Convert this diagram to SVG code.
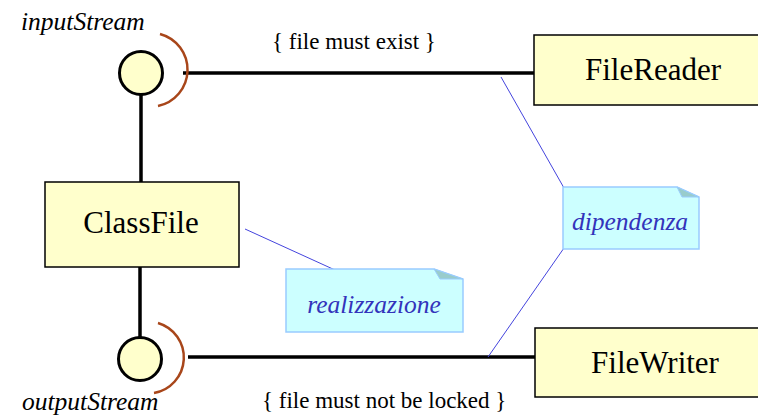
<svg xmlns="http://www.w3.org/2000/svg" width="758" height="417" viewBox="0 0 758 417">
<style>
.box{fill:#ffffcc;stroke:#000;stroke-width:1.5}
.lbl{font-family:"Liberation Serif",serif;font-size:31px;fill:#000;text-anchor:middle}
.port{fill:#ffffcc;stroke:#000;stroke-width:3}
.sock{fill:none;stroke:#a8461a;stroke-width:2.5}
.wire{fill:none;stroke:#000;stroke-width:3.5}
.anch{fill:none;stroke:#4444dd;stroke-width:1}
.note{fill:#ccffff;stroke:#99ccff;stroke-width:1.5}
.fold{fill:#99cccc;stroke:#99ccff;stroke-width:1}
.ntxt{font-family:"Liberation Serif",serif;font-style:italic;font-size:25.5px;fill:#3333bb;text-anchor:middle}
.it{font-family:"Liberation Serif",serif;font-style:italic;font-size:25.5px;fill:#000}
.con{font-family:"Liberation Serif",serif;font-size:23px;fill:#000}
</style>
<rect width="758" height="417" fill="#fff"/>
<g id="connectors">
<line class="wire" x1="141" y1="95" x2="141" y2="182"/>
<line class="wire" x1="140" y1="267" x2="140" y2="337"/>
<line class="wire" x1="183" y1="73" x2="534" y2="73"/>
<line class="wire" x1="188" y1="357" x2="535" y2="357"/>
<path class="sock" d="M160,34 A37,37 0 0 1 158,106"/>
<path class="sock" d="M158,323 A36,36 0 0 1 154,393"/>
<line class="anch" x1="245" y1="229" x2="335" y2="270"/>
<line class="anch" x1="501" y1="77" x2="564" y2="188"/>
<line class="anch" x1="564" y1="248" x2="488" y2="357"/>
</g>
<g id="inputStream">
<circle class="port" cx="141" cy="73" r="21.5"/>
<text class="it" x="21" y="30">inputStream</text>
</g>
<g id="outputStream">
<circle class="port" cx="140" cy="359" r="21.5"/>
<text class="it" x="22" y="410">outputStream</text>
</g>
<g id="ClassFile">
<rect class="box" x="45" y="182" width="194" height="85"/>
<text class="lbl" x="141" y="233">ClassFile</text>
</g>
<g id="FileReader">
<rect class="box" x="534" y="35" width="230" height="70"/>
<text class="lbl" x="653" y="80">FileReader</text>
</g>
<g id="FileWriter">
<rect class="box" x="535" y="328" width="230" height="69"/>
<text class="lbl" x="655" y="373">FileWriter</text>
</g>
<g id="realizzazione">
<path class="note" d="M286,269 H434 L463,279 V332 H286 Z"/>
<path class="fold" d="M434,269 L463,279 L440,279 Z"/>
<text class="ntxt" x="374" y="313">realizzazione</text>
</g>
<g id="dipendenza">
<path class="note" d="M563,187 H677 L699,197 V249 H563 Z"/>
<path class="fold" d="M677,187 L699,197 L682,197 Z"/>
<text class="ntxt" x="630" y="230">dipendenza</text>
</g>
<g id="constraints">
<text class="con" x="272" y="49">{ file must exist }</text>
<text class="con" x="262" y="408">{ file must not be locked }</text>
</g>
</svg>
